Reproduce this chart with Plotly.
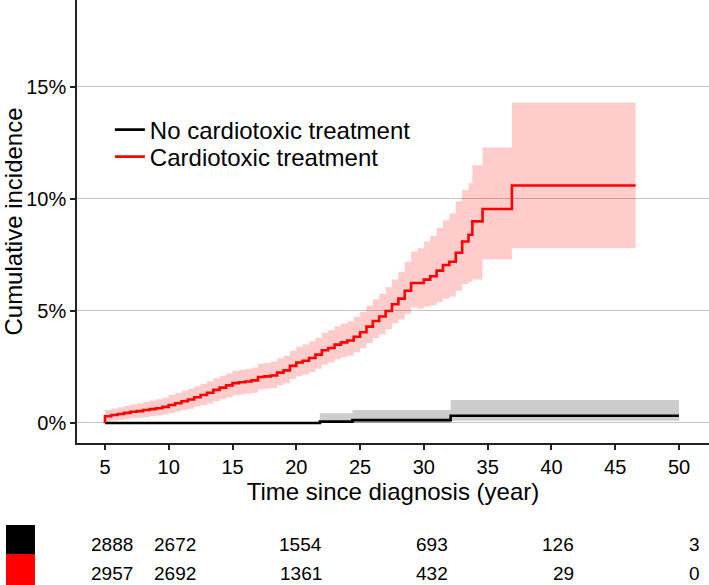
import plotly.graph_objects as go

# ---------------- data (percent) ----------------
red_time = [5.0, 5.0, 5.5, 6.0, 6.5, 7.0, 7.5, 8.0, 8.5, 9.0, 9.5, 10.0, 10.5, 11.0, 11.5, 12.0,
            12.5, 13.0, 13.5, 14.0, 14.5, 15.0, 15.5, 16.0, 16.5, 17.0, 17.5, 18.0, 18.5, 19.0,
            19.5, 20.0, 20.5, 21.0, 21.5, 22.0, 22.5, 23.0, 23.5, 24.0, 24.5, 25.0, 25.5, 26.0,
            26.5, 27.0, 27.5, 28.0, 28.5, 29.0, 29.5, 30.0, 30.5, 31.0, 31.5, 32.0, 32.5, 33.0,
            33.5, 33.8, 34.6, 36.9, 46.6]
red_est = [0.0, 0.30, 0.36, 0.40, 0.45, 0.50, 0.53, 0.58, 0.62, 0.66, 0.72, 0.80, 0.88, 0.97, 1.05, 1.15,
           1.25, 1.35, 1.48, 1.58, 1.68, 1.78, 1.82, 1.85, 1.90, 2.05, 2.08, 2.12, 2.25, 2.35,
           2.55, 2.70, 2.78, 2.90, 3.05, 3.25, 3.35, 3.50, 3.60, 3.68, 3.85, 4.05, 4.30, 4.55,
           4.75, 5.00, 5.30, 5.55, 5.90, 6.25, 6.25, 6.40, 6.55, 6.80, 7.05, 7.20, 7.60, 8.10,
           8.40, 9.00, 9.55, 10.60, 10.60]
red_low = [0.0, 0.05, 0.10, 0.13, 0.17, 0.21, 0.23, 0.27, 0.30, 0.33, 0.38, 0.45, 0.51, 0.58, 0.64, 0.72,
           0.80, 0.87, 0.98, 1.06, 1.14, 1.23, 1.27, 1.30, 1.35, 1.50, 1.53, 1.56, 1.68, 1.77,
           1.96, 2.10, 2.17, 2.28, 2.42, 2.61, 2.70, 2.84, 2.93, 3.00, 3.16, 3.35, 3.57, 3.79,
           3.96, 4.18, 4.45, 4.62, 4.88, 5.15, 5.10, 5.20, 5.25, 5.40, 5.55, 5.65, 5.90, 6.20,
           6.30, 6.40, 7.30, 7.80, 7.80]
red_up = [0.0, 0.58, 0.65, 0.70, 0.77, 0.83, 0.88, 0.95, 1.00, 1.06, 1.14, 1.25, 1.34, 1.44, 1.53, 1.64,
          1.75, 1.86, 2.00, 2.11, 2.22, 2.33, 2.38, 2.42, 2.48, 2.64, 2.68, 2.74, 2.88, 3.00,
          3.22, 3.40, 3.50, 3.64, 3.81, 4.03, 4.15, 4.32, 4.44, 4.54, 4.73, 4.95, 5.24, 5.52,
          5.77, 6.06, 6.40, 6.75, 7.20, 7.65, 7.80, 8.10, 8.35, 8.70, 9.05, 9.35, 9.90, 10.40,
          10.70, 11.50, 12.30, 14.30, 14.30]

black_time = [5.0, 21.85, 24.4, 32.1, 50.0]
black_est = [0.0, 0.06, 0.13, 0.32, 0.32]
black_low = [0.0, 0.0, 0.0, 0.10, 0.10]
black_up = [0.0, 0.43, 0.58, 1.03, 1.03]

risk_times = [5, 10, 20, 30, 40, 50]
risk_black = [2888, 2672, 1554, 693, 126, 3]
risk_red = [2957, 2692, 1361, 432, 29, 0]

series_names = ["No cardiotoxic treatment", "Cardiotoxic treatment"]
y_ticks = [0, 5, 10, 15]
y_ticktext = [f"{v}%" for v in y_ticks]
x_ticks = [5, 10, 15, 20, 25, 30, 35, 40, 45, 50]

FONT = "Liberation Sans, Arial, sans-serif"

fig = go.Figure()

# confidence bands
fig.add_trace(go.Scatter(x=black_time, y=black_low, mode="lines", line=dict(width=0, shape="hv"),
                         showlegend=False, hoverinfo="skip"))
fig.add_trace(go.Scatter(x=black_time, y=black_up, mode="lines", line=dict(width=0, shape="hv"),
                         fill="tonexty", fillcolor="rgba(0,0,0,0.2)", showlegend=False, hoverinfo="skip"))
fig.add_trace(go.Scatter(x=red_time, y=red_low, mode="lines", line=dict(width=0, shape="hv"),
                         showlegend=False, hoverinfo="skip"))
fig.add_trace(go.Scatter(x=red_time, y=red_up, mode="lines", line=dict(width=0, shape="hv"),
                         fill="tonexty", fillcolor="rgba(255,0,0,0.2)", showlegend=False, hoverinfo="skip"))

# estimate lines
fig.add_trace(go.Scatter(x=black_time, y=black_est, mode="lines", name=series_names[0],
                         line=dict(color="black", width=2.6, shape="hv"), legend="legend"))
fig.add_trace(go.Scatter(x=red_time, y=red_est, mode="lines", name=series_names[1],
                         line=dict(color="#FF0000", width=2.6, shape="hv"), legend="legend2"))

# risk table numbers
for t, b, r in zip(risk_times, risk_black, risk_red):
    fig.add_annotation(x=t, y=-0.228, xref="x2", yref="paper", text=str(b), showarrow=False,
                       xanchor="right", yanchor="middle", font=dict(size=19, color="black", family=FONT))
    fig.add_annotation(x=t, y=-0.2935, xref="x2", yref="paper", text=str(r), showarrow=False,
                       xanchor="right", yanchor="middle", font=dict(size=19, color="black", family=FONT))

# colour keys of the risk table
fig.add_shape(type="rect", xref="paper", yref="paper", x0=-0.1123, x1=-0.0665, y0=-0.2506, y1=-0.1851,
              fillcolor="black", line=dict(width=0))
fig.add_shape(type="rect", xref="paper", yref="paper", x0=-0.1123, x1=-0.0665, y0=-0.3205, y1=-0.2506,
              fillcolor="#FF0000", line=dict(width=0))

legend_common = dict(font=dict(size=24, color="black", family=FONT), bgcolor="rgba(0,0,0,0)",
                     borderwidth=0, xanchor="left", yanchor="middle")

fig.update_layout(
    width=709, height=585,
    margin=dict(l=77, r=0, t=0, b=142, autoexpand=False),
    paper_bgcolor="white", plot_bgcolor="white",
    font=dict(family=FONT, color="black"),
    legend=dict(x=0.052, y=0.7065, **legend_common),
    legend2=dict(x=0.052, y=0.6456, **legend_common),
    xaxis=dict(range=[2.81, 52.35], tickvals=x_ticks, showgrid=False, zeroline=False,
               showline=True, linecolor="#222", linewidth=1.5,
               ticks="outside", ticklen=5, tickcolor="#222", tickwidth=1.5,
               tickfont=dict(size=20, color="black"), automargin=True,
               title=dict(text="Time since diagnosis (year)", font=dict(size=24, color="black"), standoff=2)),
    xaxis2=dict(range=[0.42, 50.58], overlaying="x", visible=False),
    yaxis=dict(range=[-0.893, 18.88], tickmode="array", tickvals=y_ticks, ticktext=y_ticktext,
               showgrid=True, gridcolor="#C4C4C4", gridwidth=1, zeroline=False,
               showline=True, linecolor="#222", linewidth=1.5,
               ticks="outside", ticklen=5, tickcolor="#222", tickwidth=1.5,
               tickfont=dict(size=20, color="black"), automargin=True,
               title=dict(text="Cumulative incidence", font=dict(size=24, color="black"), standoff=6)),
)

fig.write_html("out.html", config={"displayModeBar": False},
               post_script="document.body.style.margin='0';document.body.style.padding='0';"
                           "document.body.style.overflow='hidden';")
